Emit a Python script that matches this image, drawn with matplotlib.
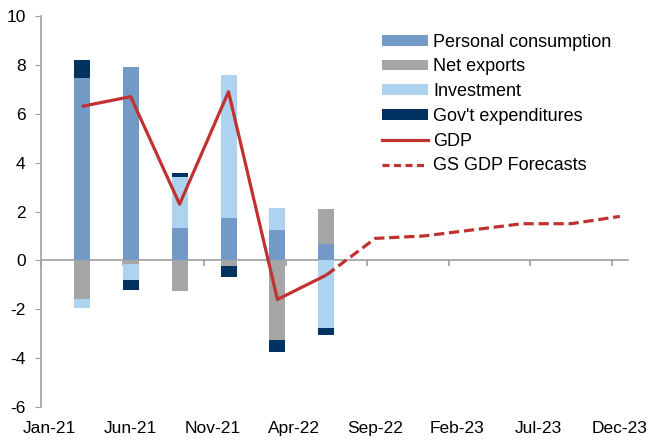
import matplotlib
matplotlib.use("Agg")
import matplotlib.pyplot as plt
import pandas as pd
import numpy as np
from matplotlib.patches import Patch
from matplotlib.lines import Line2D

plt.rcParams['font.family'] = ['Liberation Sans', 'DejaVu Sans']
plt.rcParams['axes.unicode_minus'] = False

# ---- data ----
bar_dates = ['Mar-21', 'Jun-21', 'Sep-21', 'Dec-21', 'Mar-22', 'Jun-22']
personal_consumption = [7.45, 7.92, 1.34, 1.73, 1.23, 0.68]
net_exports = [-1.57, -0.16, -1.26, -0.25, -3.25, 1.42]
investment = [-0.37, -0.66, 2.07, 5.85, 0.93, -2.75]
govt_expenditures = [0.75, -0.38, 0.17, -0.45, -0.51, -0.32]
gdp = [6.3, 6.7, 2.3, 6.9, -1.6, -0.6]

forecast_dates = ['Jun-22', 'Sep-22', 'Dec-22', 'Mar-23', 'Jun-23', 'Sep-23', 'Dec-23']
gs_forecast = [-0.6, 0.9, 1.0, 1.25, 1.5, 1.5, 1.8]

tick_labels = ['Jan-21', 'Jun-21', 'Nov-21', 'Apr-22', 'Sep-22', 'Feb-23', 'Jul-23', 'Dec-23']

series_names = ['Personal consumption', 'Net exports', 'Investment', "Gov't expenditures"]
colors = ['#7399C6', '#A6A6A6', '#AED3F0', '#003361']
red = '#C0312F'


def month_pos(labels):
    d = pd.to_datetime(labels, format='%b-%y')
    return np.array((d.year - 2021) * 12 + d.month - 1, dtype=float) + 0.5


fig = plt.figure(figsize=(6.51, 4.42), dpi=100)
ax = fig.add_axes([41 / 651, 35 / 442, 587 / 651, 391 / 442])

xb = month_pos(bar_dates)
pos_base = np.zeros(len(xb))
neg_base = np.zeros(len(xb))
for vals, col in zip([personal_consumption, net_exports, investment, govt_expenditures], colors):
    v = np.array(vals)
    bottoms = np.where(v >= 0, pos_base, neg_base)
    ax.bar(xb, v, bottom=bottoms, width=0.98, color=col, edgecolor='none', zorder=2)
    pos_base = pos_base + np.where(v >= 0, v, 0)
    neg_base = neg_base + np.where(v < 0, v, 0)

ax.plot(xb, gdp, color=red, lw=2.3, zorder=4, solid_capstyle='butt')
xf = month_pos(forecast_dates)
ax.plot(xf, gs_forecast, color=red, lw=2.3, ls=(0, (3.2, 1.5)), zorder=4)

ax.set_xlim(0, 36)
ax.set_ylim(-6, 10)
ax.set_yticks(np.arange(-6, 11, 2))
ax.tick_params(axis='y', direction='out', length=4, color='#A0A0A0', labelsize=12.5, pad=7)

tick_pos = month_pos(tick_labels)
ax.set_xticks(tick_pos)
ax.set_xticklabels(tick_labels)
ax.tick_params(axis='x', length=0, labelsize=12.5, pad=10)

for s in ['top', 'right', 'bottom']:
    ax.spines[s].set_visible(False)
ax.spines['left'].set_color('#A0A0A0')
ax.spines['left'].set_linewidth(1.2)

# zero line with ticks
zero_frac = (0 - (-6)) / 16
sec = ax.secondary_xaxis(zero_frac)
sec.set_xticks(tick_pos - 0.5)
sec.set_xticklabels([])
sec.tick_params(direction='out', length=4, color='#A0A0A0', width=1.2)
sec.spines['bottom'].set_color('#A0A0A0')
sec.spines['bottom'].set_linewidth(1.2)
sec.set_zorder(1)

handles = [Patch(facecolor=c, edgecolor='none') for c in colors]
handles += [Line2D([], [], color=red, lw=2.3),
            Line2D([], [], color=red, lw=2.3, ls=(0, (2.2, 1.4)))]
labels = series_names + ['GDP', 'GS GDP Forecasts']
leg = ax.legend(handles, labels, loc='upper left', bbox_to_anchor=(0.581, 0.955),
                frameon=False, fontsize=13, handlelength=2.55, handleheight=0.55,
                handletextpad=0.28, labelspacing=0.43, borderaxespad=0, borderpad=0)

fig.savefig('out.png', dpi=100)
